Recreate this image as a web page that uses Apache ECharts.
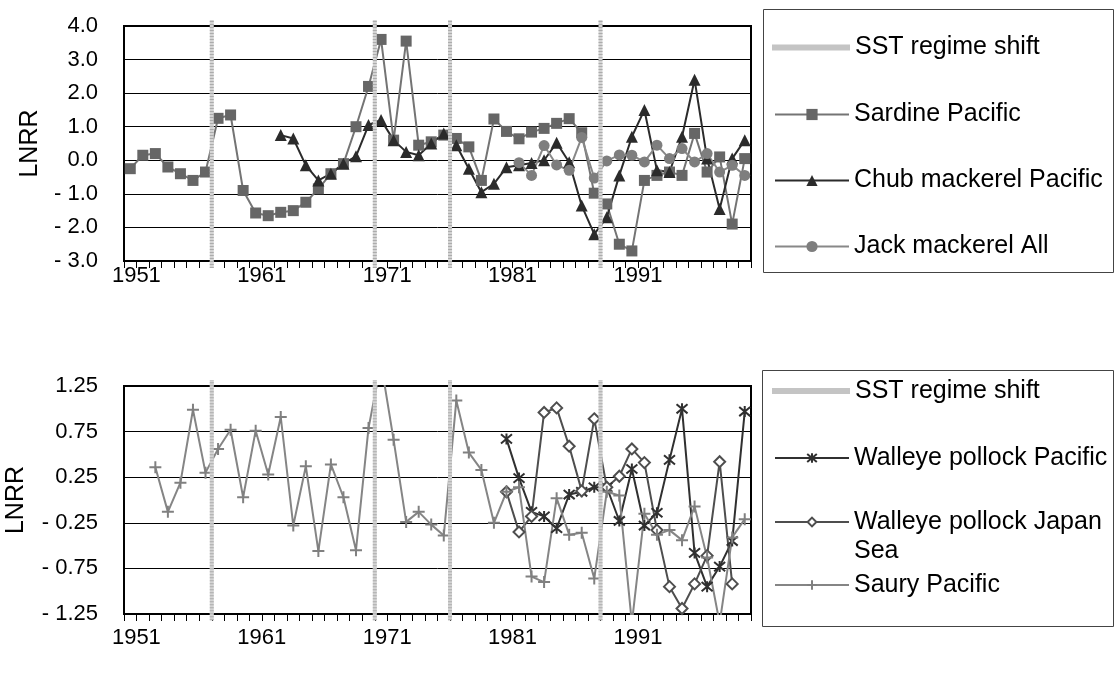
<!DOCTYPE html>
<html>
<head>
<meta charset="utf-8">
<title>LNRR of small pelagic fish stocks</title>
<script src="https://cdn.jsdelivr.net/npm/echarts@6/dist/echarts.min.js"></script>
<style>
  html, body { margin: 0; padding: 0; background: #fff; }
  #chart { width: 1115px; height: 676px; }
</style>
</head>
<body>
<div id="chart"></div>
<script>
// Years 1951-2000 (one category per year)
const years = [];
for (let y = 1951; y <= 2000; y++) years.push(String(y));

// Year boundaries where the SST regime shifts occur (shift happens before these years)
const regimeShiftYears = [1958, 1971, 1977, 1989];

// Upper panel: LNRR series
const sardinePacific = [
  -0.25, 0.15, 0.2, -0.2, -0.4, -0.6, -0.35, 1.25, 1.35, -0.9,
  -1.57, -1.65, -1.55, -1.5, -1.25, -0.85, -0.4, -0.1, 1.0, 2.2,
  3.6, 0.6, 3.55, 0.45, 0.55, 0.75, 0.65, 0.4, -0.6, 1.23,
  0.86, 0.64, 0.84, 0.95, 1.1, 1.24, 0.82, -0.98, -1.3, -2.5,
  -2.7, -0.6, -0.45, -0.35, -0.45, 0.8, -0.35, 0.1, -1.9, 0.05
];
const chubMackerelPacific = [
  null, null, null, null, null, null, null, null, null, null,
  null, null, 0.75, 0.65, -0.15, -0.6, -0.4, -0.1, 0.12, 1.05,
  1.2, 0.6, 0.25, 0.15, 0.5, 0.8, 0.45, -0.25, -0.95, -0.7,
  -0.21, -0.15, -0.08, 0.0, 0.52, -0.06, -1.35, -2.2, -1.7, -0.45,
  0.7, 1.5, -0.3, -0.35, 0.7, 2.4, 0.05, -1.45, 0.05, 0.6
];
const jackMackerelAll = [
  null, null, null, null, null, null, null, null, null, null,
  null, null, null, null, null, null, null, null, null, null,
  null, null, null, null, null, null, null, null, null, null,
  null, -0.07, -0.45, 0.44, -0.14, -0.3, 0.68, -0.53, -0.02, 0.16,
  0.15, -0.05, 0.45, 0.05, 0.35, -0.05, 0.2, -0.35, -0.15, -0.45
];

// Lower panel: LNRR series
const walleyePollockPacific = [
  null, null, null, null, null, null, null, null, null, null,
  null, null, null, null, null, null, null, null, null, null,
  null, null, null, null, null, null, null, null, null, null,
  0.67, 0.24, -0.13, -0.18, -0.31, 0.06, 0.09, 0.14, 0.14, -0.23,
  0.34, -0.28, -0.14, 0.44, 1.0, -0.58, -0.95, -0.73, -0.45, 0.97
];
const walleyePollockJapanSea = [
  null, null, null, null, null, null, null, null, null, null,
  null, null, null, null, null, null, null, null, null, null,
  null, null, null, null, null, null, null, null, null, null,
  0.09, -0.35, -0.18, 0.96, 1.01, 0.59, 0.1, 0.89, 0.14, 0.26,
  0.56, 0.41, -0.33, -0.95, -1.19, -0.92, -0.61, 0.42, -0.92, null
];
const sauryPacific = [
  null, null, 0.36, -0.13, 0.19, 0.99, 0.30, 0.56, 0.77, 0.03,
  0.76, 0.28, 0.91, -0.28, 0.37, -0.56, 0.39, 0.03, -0.55, 0.79,
  1.5, 0.66, -0.24, -0.13, -0.27, -0.39, 1.09, 0.52, 0.33, -0.25,
  0.09, 0.14, -0.84, -0.9, 0.02, -0.38, -0.36, -0.86, 0.09, 0.05,
  -1.35, -0.15, -0.38, -0.33, -0.44, -0.07, -0.63, -1.35, -0.41, -0.21
];

const FONT = 'Liberation Sans, Arial, Helvetica, sans-serif';
const boundaries = regimeShiftYears.map(y => y - Number(years[0]));

const chart = echarts.init(document.getElementById('chart'), null, { renderer: 'canvas' });

function catAxis(gridIndex, labelMargin) {
  return {
    type: 'category', gridIndex, data: years, boundaryGap: true,
    axisLine: { show: true, onZero: false, lineStyle: { color: '#000', width: 2 } },
    axisTick: { show: true, interval: 0, length: 7, lineStyle: { color: '#000', width: 1 } },
    axisLabel: {
      interval: 9, color: '#000', fontSize: 22, fontFamily: FONT, margin: labelMargin,
      formatter: v => '  ' + v
    },
    splitLine: { show: false }
  };
}
// Hidden unit scales used to place the regime-shift markers across each panel
function shiftXAxis(gridIndex) {
  return { type: 'value', gridIndex, min: 0, max: years.length, show: false };
}
function shiftYAxis(gridIndex) {
  return { type: 'value', gridIndex, min: 0, max: 1, show: false };
}
function valAxis(gridIndex, min, max, interval, digits, nameGap) {
  return {
    type: 'value', gridIndex, min, max, interval,
    name: 'LNRR', nameLocation: 'middle', nameGap, nameRotate: 90,
    nameTextStyle: { color: '#000', fontSize: 25, fontFamily: FONT },
    axisLine: { show: true, onZero: false, lineStyle: { color: '#000', width: 2 } },
    axisTick: { show: false },
    axisLabel: {
      color: '#000', fontSize: 22, fontFamily: FONT, margin: 26,
      formatter: v => (v < -1e-9 ? '- ' + (-v).toFixed(digits) : Math.abs(v).toFixed(digits))
    },
    splitLine: { show: true, lineStyle: { color: '#000', width: 1 } }
  };
}

// Regime-shift markers: a stippled band at each boundary, running slightly past
// the plot frame (down to the tick marks)
function shiftSeries(xAxisIndex, yAxisIndex, lo, hi) {
  return {
    name: 'SST regime shift', type: 'custom', xAxisIndex, yAxisIndex,
    data: boundaries.map(b => [b]),
    z: 5, clip: false, silent: true,
    renderItem: (params, api) => {
      const b = api.value(0);
      const p0 = api.coord([b, lo]);
      const p1 = api.coord([b, hi]);
      const shape = { x1: p0[0], y1: p0[1], x2: p1[0], y2: p1[1] };
      return {
        type: 'group',
        children: [
          { type: 'line', shape, style: { stroke: '#d4d4d4', lineWidth: 4 } },
          { type: 'line', shape, style: { stroke: '#acacac', lineWidth: 4, lineDash: [1, 2] } }
        ]
      };
    }
  };
}

function dataSeries(name, data, xAxisIndex, yAxisIndex, symbol, size, fill, stroke, lineColor, borderWidth) {
  return {
    name, type: 'line', data, xAxisIndex, yAxisIndex,
    symbol, symbolSize: size, showSymbol: true, showAllSymbol: true,
    clip: true, connectNulls: false,
    lineStyle: { color: lineColor, width: 2 },
    itemStyle: { color: fill, borderColor: stroke, borderWidth: borderWidth },
    emphasis: { disabled: true }
  };
}

const STAR = 'path://M0,0L10,10M10,0L0,10M5,-1L5,11';
const PLUS = 'path://M0,5L10,5M5,0L5,10';

// One legend component per entry so every key sits exactly where it belongs.
// The legend box is laid out from its text box: key centre = top + half a text line
// (plus any leading lines given by `lead`).
function legendEntry(name, centerY, opts) {
  const lineH = opts.lineHeight || 30;
  const entry = { name };
  if (opts.icon) { entry.icon = opts.icon; entry.itemStyle = opts.itemStyle; }
  return {
    show: true, orient: 'vertical', left: opts.left || 774,
    top: centerY - 12.5 - (opts.lead || 0) * lineH,
    padding: 0, itemGap: 0, itemWidth: opts.itemWidth || 74, itemHeight: opts.itemHeight || 14,
    selectedMode: false, data: [entry],
    formatter: opts.formatter,
    textStyle: { color: '#000', fontSize: 25, fontFamily: FONT, lineHeight: lineH }
  };
}

const shiftIcon = { icon: 'rect', itemStyle: { color: '#c4c4c4' }, itemHeight: 6, itemWidth: 78, left: 772 };

const option = {
  animation: false,
  backgroundColor: '#fff',
  grid: [
    { left: 124, top: 26, width: 627, height: 235, show: true, borderColor: '#000', borderWidth: 2,
      backgroundColor: '#fff', outerBoundsMode: 'none', containLabel: false },
    { left: 124, top: 386, width: 627, height: 228, show: true, borderColor: '#000', borderWidth: 2,
      backgroundColor: '#fff', outerBoundsMode: 'none', containLabel: false }
  ],
  xAxis: [catAxis(0, 4), shiftXAxis(0), catAxis(1, 13), shiftXAxis(1)],
  yAxis: [
    valAxis(0, -3, 4, 1, 1, 81), valAxis(1, -1.25, 1.25, 0.5, 2, 95),
    shiftYAxis(0), shiftYAxis(1)
  ],
  legend: [
    legendEntry('SST regime shift', 45, shiftIcon),
    legendEntry('Sardine Pacific', 112, {}),
    legendEntry('Chub mackerel Pacific', 178, {}),
    legendEntry('Jack mackerel All', 244, {}),

    legendEntry('SST regime shift', 389, Object.assign({ lineHeight: 29 }, shiftIcon)),
    legendEntry('Walleye pollock Pacific', 456, { lineHeight: 29, itemHeight: 12 }),
    legendEntry('Walleye pollock Japan Sea', 520, {
      lineHeight: 29, itemHeight: 11, lead: 1,
      formatter: n => ' \n' + n.replace(' Sea', '\nSea')
    }),
    legendEntry('Saury Pacific', 583, { lineHeight: 29, itemHeight: 12 })
  ],
  graphic: [
    { type: 'rect', shape: { x: 763.5, y: 9.5, width: 350, height: 263 }, style: { fill: 'none', stroke: '#444', lineWidth: 1 }, silent: true },
    { type: 'rect', shape: { x: 762.5, y: 370.5, width: 351, height: 256 }, style: { fill: 'none', stroke: '#444', lineWidth: 1 }, silent: true }
  ],
  series: [
    dataSeries('Sardine Pacific', sardinePacific, 0, 0, 'rect', 11, '#666666', '#666666', '#747474', 0),
    dataSeries('Chub mackerel Pacific', chubMackerelPacific, 0, 0, 'triangle', 12, '#2b2b2b', '#2b2b2b', '#2b2b2b', 0),
    dataSeries('Jack mackerel All', jackMackerelAll, 0, 0, 'circle', 11, '#7e7e7e', '#7e7e7e', '#888888', 0),
    shiftSeries(1, 2, -0.03, 1.026),

    dataSeries('Walleye pollock Pacific', walleyePollockPacific, 2, 1, STAR, 11, 'rgba(0,0,0,0)', '#303030', '#303030', 2),
    dataSeries('Walleye pollock Japan Sea', walleyePollockJapanSea, 2, 1, 'diamond', 11, '#ffffff', '#4e4e4e', '#4e4e4e', 2),
    dataSeries('Saury Pacific', sauryPacific, 2, 1, PLUS, 12, 'rgba(0,0,0,0)', '#808080', '#858585', 2),
    shiftSeries(3, 3, -0.027, 1.026)
  ]
};

chart.setOption(option);
</script>
</body>
</html>
